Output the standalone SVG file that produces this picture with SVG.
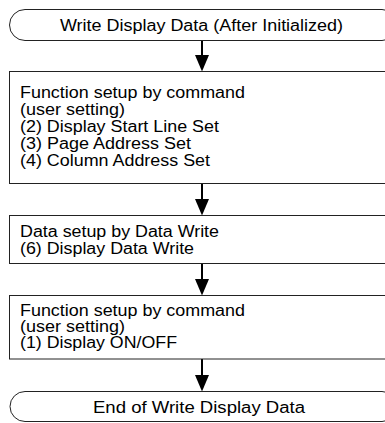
<svg xmlns="http://www.w3.org/2000/svg" width="385" height="423" viewBox="0 0 385 423">
<style>
.shape{fill:#fff;stroke:#222;stroke-width:1}
.t{font-family:"Liberation Sans",Arial,sans-serif;font-size:16px;fill:#000}
.c{text-anchor:middle}
.shaft{stroke:#000;stroke-width:2;fill:none}
.head{fill:#000}
</style>
<rect width="385" height="423" fill="#fff"/>
<g id="connectors">
<line class="shaft" x1="202" y1="40.5" x2="202" y2="57"/><polygon class="head" points="195,55 209,55 202,71.5"/>
<line class="shaft" x1="202" y1="183.5" x2="202" y2="201"/><polygon class="head" points="195,199 209,199 202,215.5"/>
<line class="shaft" x1="202" y1="263.5" x2="202" y2="281"/><polygon class="head" points="195,279 209,279 202,295.5"/>
<line class="shaft" x1="202" y1="359" x2="202" y2="377"/><polygon class="head" points="195,375 209,375 202,391.5"/>
</g>
<g id="start">
<path class="shape" d="M25,9.5 H382 A15.5,15.5 0 0 1 382,40.5 H25 A15.5,15.5 0 0 1 25,9.5 Z"/>
<text class="t c" x="201.5" y="31" textLength="283" lengthAdjust="spacingAndGlyphs">Write Display Data (After Initialized)</text>
</g>
<g id="box1">
<rect class="shape" x="9.5" y="71.5" width="390" height="112"/>
<text class="t" x="20" y="97.5" textLength="225" lengthAdjust="spacingAndGlyphs">Function setup by command</text>
<text class="t" x="20" y="114.5" textLength="105" lengthAdjust="spacingAndGlyphs">(user setting)</text>
<text class="t" x="20" y="131.5" textLength="199" lengthAdjust="spacingAndGlyphs">(2) Display Start Line Set</text>
<text class="t" x="20" y="148.5" textLength="171" lengthAdjust="spacingAndGlyphs">(3) Page Address Set</text>
<text class="t" x="20" y="165.5" textLength="190" lengthAdjust="spacingAndGlyphs">(4) Column Address Set</text>
</g>
<g id="box2">
<rect class="shape" x="9.5" y="215.5" width="390" height="48"/>
<text class="t" x="20" y="237" textLength="199" lengthAdjust="spacingAndGlyphs">Data setup by Data Write</text>
<text class="t" x="20" y="253.5" textLength="174" lengthAdjust="spacingAndGlyphs">(6) Display Data Write</text>
</g>
<g id="box3">
<rect class="shape" x="9.5" y="295.5" width="390" height="63.5"/>
<text class="t" x="20" y="316" textLength="225" lengthAdjust="spacingAndGlyphs">Function setup by command</text>
<text class="t" x="20" y="332" textLength="105" lengthAdjust="spacingAndGlyphs">(user setting)</text>
<text class="t" x="20" y="348" textLength="157" lengthAdjust="spacingAndGlyphs">(1) Display ON/OFF</text>
</g>
<g id="end">
<path class="shape" d="M25,391.5 H382 A15,15 0 0 1 382,421.5 H25 A15,15 0 0 1 25,391.5 Z"/>
<text class="t c" x="199" y="412.5" textLength="212" lengthAdjust="spacingAndGlyphs">End of Write Display Data</text>
</g>
</svg>
